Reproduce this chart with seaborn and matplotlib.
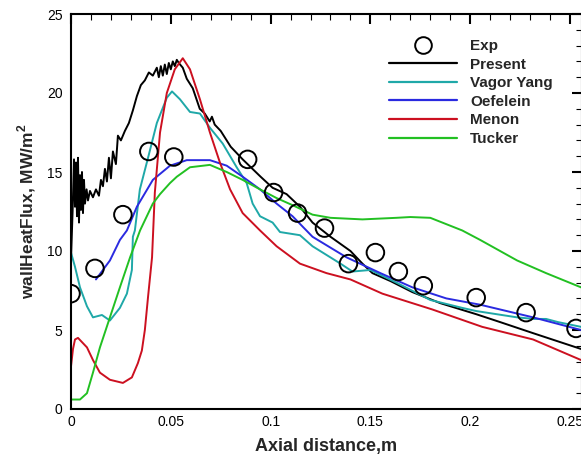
import numpy as np
import pandas as pd
import matplotlib
matplotlib.use("Agg")
import matplotlib.pyplot as plt
from matplotlib.lines import Line2D
from matplotlib.ticker import MultipleLocator, FixedLocator, FixedFormatter
import seaborn as sns

# ---------------- data ----------------
exp_x = [0.0, 0.012, 0.026, 0.039, 0.0515, 0.0885, 0.1015, 0.1135, 0.127,
         0.139, 0.1525, 0.164, 0.1765, 0.203, 0.228, 0.253]
exp_y = [7.3, 8.9, 12.3, 16.3, 15.95, 15.8, 13.7, 12.4, 11.45,
         9.2, 9.9, 8.7, 7.8, 7.05, 6.1, 5.1]

present_x = [0.0, 0.0008, 0.0015, 0.002, 0.0025, 0.003, 0.0035, 0.004, 0.0045, 0.005,
             0.0055, 0.006, 0.0065, 0.007, 0.0078, 0.0085, 0.0095, 0.011, 0.0125, 0.014,
             0.015, 0.016, 0.017, 0.018, 0.019, 0.020, 0.021, 0.0225, 0.0235, 0.025,
             0.027, 0.029, 0.031, 0.033, 0.035, 0.037, 0.039, 0.041, 0.043, 0.044,
             0.045, 0.046, 0.047, 0.048, 0.049, 0.050, 0.051, 0.052, 0.053, 0.054,
             0.056, 0.058, 0.061, 0.0645, 0.067, 0.0695, 0.0706, 0.072, 0.075, 0.08,
             0.086, 0.095, 0.101, 0.108, 0.1147, 0.121, 0.13, 0.14, 0.146, 0.151,
             0.16, 0.171, 0.185, 0.203, 0.215, 0.2315, 0.2555]
present_y = [9.5, 12.5, 15.8, 12.8, 15.6, 12.2, 15.9, 11.8, 14.8, 12.6,
             15.0, 12.4, 14.5, 13.0, 13.9, 13.2, 13.8, 13.4, 13.9, 13.5,
             14.5, 14.1, 15.2, 14.4, 15.9, 14.6, 16.3, 15.5, 17.3, 17.0,
             17.6, 18.1, 18.9, 19.8, 20.5, 20.8, 21.3, 21.1, 21.6, 21.0,
             21.7, 21.1, 21.8, 21.2, 21.9, 21.5, 22.0, 21.7, 22.1, 21.9,
             21.6, 20.9, 20.3, 19.0, 18.7, 18.2, 18.5, 18.0, 17.6, 16.6,
             15.8, 14.7, 14.0, 13.6, 12.8, 11.8, 10.9, 10.0, 9.2, 8.6,
             8.1, 7.4, 6.7, 6.0, 5.5, 4.8, 3.8]

vagor_x = [0.0, 0.002, 0.0045, 0.008, 0.011, 0.0155, 0.0195, 0.0245, 0.028, 0.0305,
           0.031, 0.032, 0.0345, 0.0386, 0.043, 0.048, 0.0506, 0.0546, 0.0596, 0.0646,
           0.0696, 0.076, 0.083, 0.088, 0.091, 0.0947, 0.101, 0.1047, 0.1147, 0.121,
           0.135, 0.141, 0.15, 0.163, 0.18, 0.196, 0.203, 0.2235, 0.232, 0.238,
           0.244, 0.2555]
vagor_y = [9.9, 9.0, 7.7, 6.5, 5.8, 5.95, 5.6, 6.4, 7.3, 8.8,
           10.9, 11.3, 13.9, 15.9, 18.1, 19.7, 20.1, 19.6, 18.8, 18.7,
           17.8, 16.8, 15.3, 14.3, 13.0, 12.2, 11.8, 11.2, 11.0, 10.3,
           9.2, 8.7, 8.8, 8.0, 6.9, 6.4, 6.2, 5.8, 5.7, 5.7,
           5.5, 5.2]

oef_x = [0.0125, 0.0195, 0.0245, 0.028, 0.033, 0.041, 0.0496, 0.058, 0.0696, 0.078,
         0.086, 0.0947, 0.103, 0.111, 0.121, 0.138, 0.155, 0.171, 0.188, 0.205,
         0.2315, 0.2555]
oef_y = [8.2, 9.4, 10.7, 11.3, 12.8, 14.5, 15.4, 15.75, 15.75, 15.4,
         14.7, 13.9, 13.0, 12.2, 10.9, 9.6, 8.6, 7.7, 7.0, 6.6,
         5.8, 5.0]

menon_x = [0.0, 0.001, 0.002, 0.0035, 0.008, 0.011, 0.0145, 0.0195, 0.026, 0.0305,
           0.0335, 0.0355, 0.037, 0.0386, 0.0406, 0.042, 0.0446, 0.048, 0.052, 0.056,
           0.0596, 0.0646, 0.0696, 0.0746, 0.0797, 0.086, 0.0947, 0.103, 0.1147, 0.128,
           0.14, 0.156, 0.181, 0.206, 0.2315, 0.2555]
menon_y = [2.7, 3.8, 4.4, 4.5, 3.9, 3.1, 2.3, 1.85, 1.65, 2.0,
           2.9, 3.7, 5.0, 7.1, 9.6, 13.7, 17.5, 20.0, 21.5, 22.2,
           21.5, 19.6, 17.5, 15.6, 13.9, 12.4, 11.3, 10.3, 9.2, 8.6,
           8.2, 7.3, 6.3, 5.2, 4.4, 3.1]

tucker_x = [0.0, 0.0045, 0.008, 0.011, 0.0145, 0.0195, 0.0245, 0.0296, 0.0346, 0.041,
            0.0446, 0.0496, 0.053, 0.0596, 0.0696, 0.078, 0.086, 0.0947, 0.103, 0.111,
            0.121, 0.13, 0.146, 0.163, 0.17, 0.18, 0.196, 0.205, 0.2235, 0.238,
            0.2555]
tucker_y = [0.6, 0.6, 1.0, 2.3, 3.9, 5.8, 7.7, 9.6, 11.3, 13.0,
            13.6, 14.3, 14.7, 15.3, 15.45, 15.0, 14.5, 13.9, 13.35, 12.9,
            12.3, 12.1, 12.0, 12.1, 12.15, 12.1, 11.3, 10.7, 9.4, 8.6,
            7.7]

series_names = ["Present", "Vagor Yang", "Oefelein", "Menon", "Tucker"]
series_colors = ["#000000", "#1fa8a8", "#2a2ae0", "#cc1020", "#22c022"]
x_ticks = [0, 0.05, 0.1, 0.15, 0.2, 0.25]
x_tick_labels = ["0", "0.05", "0.1", "0.15", "0.2", "0.25"]
y_ticks = [0, 5, 10, 15, 20, 25]
y_tick_labels = ["0", "5", "10", "15", "20", "25"]

# ---------------- build long-form table ----------------
frames = []
for name, xs, ys in zip(series_names,
                        [present_x, vagor_x, oef_x, menon_x, tucker_x],
                        [present_y, vagor_y, oef_y, menon_y, tucker_y]):
    frames.append(pd.DataFrame({"x": xs, "y": ys, "model": name}))
df = pd.concat(frames, ignore_index=True)
exp_df = pd.DataFrame({"x": exp_x, "y": exp_y})

sns.set_style("white")
plt.rcParams["font.family"] = ["Liberation Sans", "DejaVu Sans"]
plt.rcParams["mathtext.fontset"] = "custom"
plt.rcParams["mathtext.rm"] = "Liberation Sans"
plt.rcParams["mathtext.bf"] = "Liberation Sans:bold"

fig = plt.figure(figsize=(5.81, 4.55), dpi=100)
ax = fig.add_axes([71 / 581, 46 / 455, 511 / 581, 395 / 455])

palette = dict(zip(series_names, series_colors))
sns.lineplot(data=df, x="x", y="y", hue="model", palette=palette,
             hue_order=series_names, estimator=None, sort=False,
             units="model", linewidth=1.4, legend=False, ax=ax)
sns.scatterplot(data=exp_df, x="x", y="y", marker="o", s=160,
                facecolor="none", edgecolor="black", linewidth=1.4,
                ax=ax, zorder=5, legend=False)

ax.set_xlim(0, 0.256)
ax.set_ylim(0, 25)
ax.xaxis.set_major_locator(FixedLocator(x_ticks))
ax.xaxis.set_major_formatter(FixedFormatter(x_tick_labels))
ax.yaxis.set_major_locator(FixedLocator(y_ticks))
ax.yaxis.set_major_formatter(FixedFormatter(y_tick_labels))
ax.xaxis.set_minor_locator(MultipleLocator(0.01))
ax.yaxis.set_minor_locator(MultipleLocator(1))
ax.tick_params(which="both", direction="in", top=True, right=True,
               colors="black", labelsize=10)
ax.tick_params(which="major", length=7, width=1.5)
ax.tick_params(which="minor", length=4, width=0.8)
ax.tick_params(axis="x", which="major", pad=4)
ax.tick_params(axis="y", which="major", pad=6)
for sp in ax.spines.values():
    sp.set_linewidth(1.5)
    sp.set_color("black")

ax.set_xlabel("Axial distance,m", fontsize=13, fontweight="bold")
ax.set_ylabel(r"wallHeatFlux, MW/m$^{\mathbf{2}}$", fontsize=12.5, fontweight="bold")
ax.xaxis.set_label_coords(0.5, -0.094)
ax.xaxis.label.set_va("center")
ax.yaxis.set_label_coords(-0.086, 0.5)
ax.yaxis.label.set_va("center")

handles = [Line2D([], [], linestyle="none", marker="o", markersize=12,
                  markerfacecolor="none", markeredgecolor="black",
                  markeredgewidth=1.4)]
for name, c in zip(series_names, series_colors):
    handles.append(Line2D([], [], color=c, linewidth=1.6))
labels = ["Exp"] + series_names
leg = fig.legend(handles, labels, loc="upper left",
                 bbox_to_anchor=(389 / 581, 1 - 39 / 455),
                 frameon=False, borderpad=0, borderaxespad=0,
                 handlelength=4.45, handletextpad=0.85, labelspacing=0.3,
                 prop={"weight": "bold", "size": 11})

fig.savefig("out.png", dpi=100)
